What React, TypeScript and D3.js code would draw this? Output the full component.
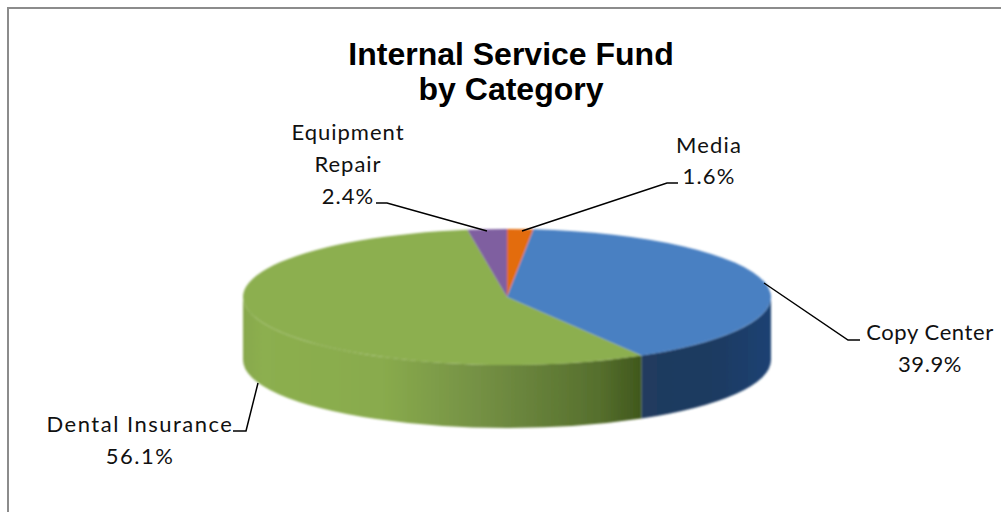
import React from "react";
import * as d3 from "d3";

const categories = ["Media", "Copy Center", "Dental Insurance", "Equipment Repair"];
const shares = [1.6, 39.9, 56.1, 2.4];
const titleLines = ["Internal Service Fund", "by Category"];
const topColors = ["#E36C0A", "#4A80C2", "#8CAF4F", "#7F5FA0"];
const wallColors = ["#984807", "url(#blueWall)", "url(#greenWall)", "#4F3A66"];

const cx = 507, cy = 297, rx = 264, ry = 68, depth = 63;

const pie = d3.pie<number>().sort(null).value((d) => d).startAngle(0).endAngle(2 * Math.PI);
const arcs = pie(shares);
const arcGen = d3.arc<d3.PieArcDatum<number>>().innerRadius(0).outerRadius(rx);

const px = (t: number) => cx + rx * Math.sin(t);
const py = (t: number) => cy - ry * Math.cos(t);

function wallPath(a0: number, a1: number) {
  const s = Math.max(a0, Math.PI / 2);
  const e = Math.min(a1, (3 * Math.PI) / 2);
  if (e <= s) return "";
  return `M${px(s)},${py(s)}A${rx},${ry} 0 0 1 ${px(e)},${py(e)}L${px(e)},${py(e) + depth}A${rx},${ry} 0 0 0 ${px(s)},${py(s) + depth}Z`;
}

const font = "Lato, 'Open Sans', sans-serif";
const labelSize = 22;

type Lab = { lines: string[]; x: number; y: number; gap: number; ls: number };
const labels: Lab[] = [
  { lines: ["Media", "1.6%"], x: 709, y: 153, gap: 31, ls: 1.2 },
  { lines: ["Copy Center", "39.9%"], x: 930, y: 340, gap: 32, ls: 0.6 },
  { lines: ["Dental Insurance", "56.1%"], x: 140, y: 432, gap: 32, ls: 1.5 },
  { lines: ["Equipment", "Repair", "2.4%"], x: 348, y: 140, gap: 32, ls: 1.0 },
];
const leaders: [number, number][][] = [
  [[522, 231], [667, 183], [678, 183]],
  [[764, 283], [848, 340], [860, 340]],
  [[258, 383], [246, 431], [233, 431]],
  [[487, 231], [387, 203], [376, 203]],
];

export default function App() {
  return (
    <svg width={1001} height={512} style={{ position: "absolute", left: 0, top: 0, background: "#fff" }}>
      <defs>
        <filter id="soft" x="-5%" y="-5%" width="110%" height="110%">
          <feGaussianBlur stdDeviation={0.8} />
        </filter>
        <linearGradient id="greenWall" gradientUnits="userSpaceOnUse" x1={243} x2={639} y1={0} y2={0}>
          <stop offset="0" stopColor="#87A84C" />
          <stop offset="0.05" stopColor="#8CAF4F" />
          <stop offset="0.35" stopColor="#89AB4D" />
          <stop offset="0.62" stopColor="#728E43" />
          <stop offset="0.9" stopColor="#566F2D" />
          <stop offset="1" stopColor="#41591D" />
        </linearGradient>
        <linearGradient id="blueWall" gradientUnits="userSpaceOnUse" x1={639} x2={771} y1={0} y2={0}>
          <stop offset="0" stopColor="#203A5E" />
          <stop offset="0.6" stopColor="#1F3A62" />
          <stop offset="1" stopColor="#1F4273" />
        </linearGradient>
      </defs>
      <rect x={8} y={8} width={1010} height={520} fill="#fff" stroke="#8C8C8C" strokeWidth={2} />
      <text textAnchor="middle" fontFamily="'Liberation Sans', Arial, sans-serif" fontWeight="bold" fontSize={32} fill="#000">
        {titleLines.map((l, i) => (
          <tspan key={l} x={511} y={65 + i * 35}>{l}</tspan>
        ))}
      </text>
      <g filter="url(#soft)">
        <g>
          {arcs.map((a, i) => (
            <path key={categories[i]} d={wallPath(a.startAngle, a.endAngle)} fill={wallColors[i]} />
          ))}
        </g>
        <g transform={`translate(${cx},${cy}) scale(1,${ry / rx})`}>
          {arcs.map((a, i) => (
            <path key={categories[i]} d={arcGen(a) ?? ""} fill={topColors[i]} />
          ))}
        </g>
      </g>
      <g fill="none" stroke="#000" strokeWidth={1.5}>
        {leaders.map((pts, i) => (
          <path key={i} d={d3.line()(pts) ?? ""} />
        ))}
      </g>
      <g fontFamily={font} fontSize={labelSize} fill="#111" textAnchor="middle">
        {labels.map((l) => (
          <text key={l.lines[0]} letterSpacing={l.ls}>
            {l.lines.map((t, j) => (
              <tspan key={t} x={l.x} y={l.y + j * l.gap}>{t}</tspan>
            ))}
          </text>
        ))}
      </g>
    </svg>
  );
}
